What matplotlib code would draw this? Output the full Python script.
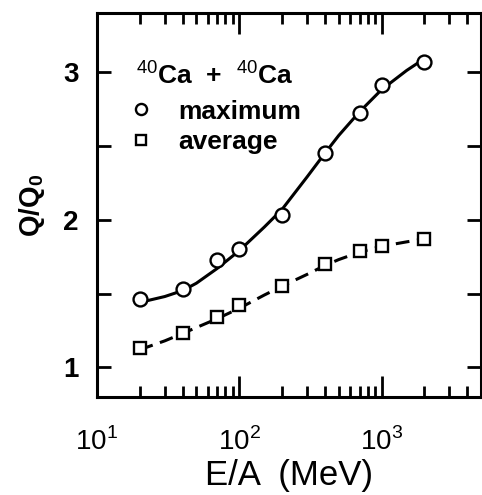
import matplotlib
matplotlib.use('Agg')
import matplotlib.pyplot as plt
from matplotlib.lines import Line2D
from matplotlib.ticker import LogLocator, FixedLocator, NullFormatter

# Data
energy = [20, 40, 70, 100, 200, 400, 700, 1000, 2000]
q_max = [1.46, 1.53, 1.73, 1.80, 2.03, 2.45, 2.72, 2.91, 3.07]
q_avg = [1.13, 1.23, 1.34, 1.42, 1.55, 1.70, 1.79, 1.82, 1.87]

# Fitted curves
curve_e = [20, 30, 40, 50, 70, 100, 150, 200, 300, 400, 500, 700, 1000, 1500, 2000]
curve_max = [1.44, 1.48, 1.52, 1.57, 1.67, 1.79, 1.95, 2.07, 2.29, 2.45, 2.57, 2.73, 2.88, 3.01, 3.09]
curve_avg = [1.12, 1.18, 1.23, 1.27, 1.33, 1.40, 1.49, 1.55, 1.63, 1.69, 1.73, 1.78, 1.82, 1.85, 1.87]

plt.rcParams['font.family'] = ['Liberation Sans', 'DejaVu Sans']
plt.rcParams['mathtext.fontset'] = 'custom'
plt.rcParams['mathtext.rm'] = 'Liberation Sans'
plt.rcParams['mathtext.bf'] = 'Liberation Sans:bold'

fig = plt.figure(figsize=(4.82, 4.95), dpi=100)
ax = fig.add_axes([0.201, 0.198, 0.797, 0.776])

ax.plot(curve_e, curve_max, '-', color='black', lw=2.2)
ax.plot(curve_e, curve_avg, '--', color='black', lw=2.2, dashes=(4.5, 2.5))
ax.plot(energy, q_max, 'o', mfc='white', mec='black', mew=1.7, ms=10)
ax.plot(energy, q_avg, 's', mfc='white', mec='black', mew=1.7, ms=9)

ax.set_xscale('log')
ax.set_xlim(10, 5000)
ax.set_ylim(0.8, 3.4)

ax.xaxis.set_major_locator(FixedLocator([10, 100, 1000]))
ax.xaxis.set_minor_locator(LogLocator(base=10, subs=range(2, 10)))
ax.xaxis.set_minor_formatter(NullFormatter())
ax.set_xticks([10, 100, 1000])
ax.set_xticklabels(['10$^1$', '10$^2$', '10$^3$'])
ax.set_yticks([1, 1.5, 2, 2.5, 3])
ax.set_yticklabels(['1', '', '2', '', '3'])

ax.tick_params(which='both', direction='in', top=True, right=True, width=2)
ax.tick_params(axis='y', which='major', length=10, pad=13, labelsize=20)
ax.tick_params(axis='x', which='major', length=15, pad=22, labelsize=20)
ax.tick_params(axis='x', which='minor', length=8)
for lab in ax.get_yticklabels():
    lab.set_fontweight('bold')
for s in ax.spines.values():
    s.set_linewidth(2.2)

ax.set_xlabel('E/A  (MeV)', fontsize=25, labelpad=2)
ax.set_ylabel('Q/Q$_\\mathbf{0}$', fontsize=20, fontweight='bold', labelpad=12)

handles = [
    Line2D([], [], ls='none', marker='o', mfc='white', mec='black', mew=1.7, ms=8),
    Line2D([], [], ls='none', marker='s', mfc='white', mec='black', mew=1.7, ms=7.5),
]
leg = ax.legend(handles, ['maximum', 'average'], loc='upper left',
                title='$^{40}$Ca  +  $^{40}$Ca', frameon=False,
                prop={'size': 19, 'weight': 'bold'}, handlelength=0.4,
                handletextpad=1.2, labelspacing=0.25, borderpad=0,
                bbox_to_anchor=(0.068, 0.91))
leg.get_title().set_fontsize(19)
leg.get_title().set_fontweight('bold')
leg._legend_box.align = 'left'
leg._legend_box.sep = 8

fig.savefig('out.png', dpi=100)
